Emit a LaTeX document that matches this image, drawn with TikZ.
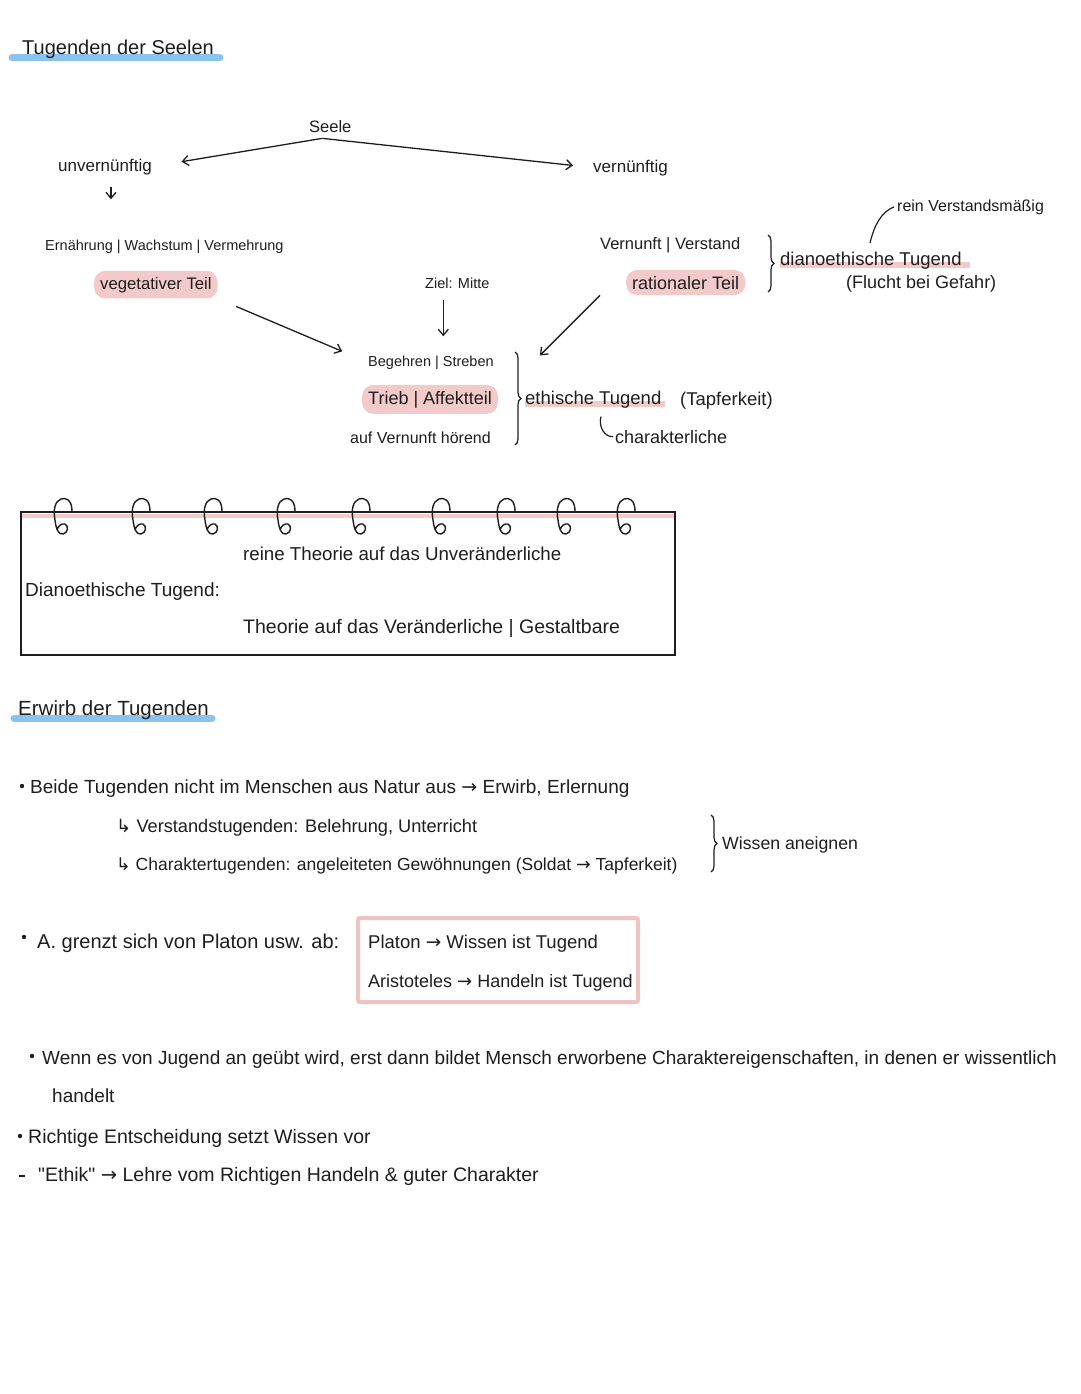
\documentclass[tikz,border=0pt]{standalone}
\usepackage{fontspec}
\setmainfont{Liberation Sans}
\newfontfamily\symf{DejaVu Sans}
\usetikzlibrary{arrows.meta,
                decorations.pathreplacing}

\definecolor{ink}{HTML}{1E1E1E}
\definecolor{pinkhl}{HTML}{F3CACA}
\definecolor{pinkbox}{HTML}{F1C2C2}
\definecolor{bluehl}{HTML}{8CC3EE}
\newcommand{\ra}{{\symf →}}
\newcommand{\hookra}{{\symf ↳}}
\newcommand{\fs}[1]{\fontsize{#1}{#1}\selectfont}

\tikzset{
  hand/.style={font=\fs{19}, inner sep=0pt, anchor=base west, text=ink},
  pill/.style={fill=pinkhl, rounded corners=11pt, inner xsep=6pt, inner ysep=6pt},
  arr/.style={-{Straight Barb[length=6pt,width=10pt]}, line width=1.3pt, draw=ink},
  hbrace/.style={decorate, decoration={brace, amplitude=6pt}, line width=1.2pt, draw=ink},
  bar/.style={line width=7pt, line cap=round},
}

\begin{document}
\begin{tikzpicture}[x=1pt, y=-1pt]
                \fill[white] (0,0) rectangle (1080,1394);
                \useasboundingbox (0,0) rectangle (1080,1394);
                % Tugenden der Seelen
                \draw[bar, bluehl] (12,58) -- (220,58);
                \node[hand, font=\fs{20}] (title) at (22,55) {Tugenden der Seelen};
                \node[hand, font=\fs{16.5}] (seele) at (309,132) {Seele};
                \node[hand, font=\fs{17}] (unv) at (58,171) {unvernünftig};
                \node[hand, font=\fs{17}] (vern) at (593,172) {vernünftig};
                \draw[arr, shorten >=30pt] ([shift={(-8,6)}]seele.south) -- (unv.east);
                \draw[arr, shorten >=20pt] ([shift={(-8,6)}]seele.south) -- (vern.west);
                \node[hand, font=\fs{14.5}] (ern) at (45,250) {Ernährung | Wachstum | Vermehrung};
                \draw[arr, shorten <=12pt, shorten >=40pt] ([xshift=6pt]unv.south) -- ([xshift=6pt]unv.south |- ern.north);
                \node[hand, pill, font=\fs{16.7}] (veg) at (94,289) {vegetativer Teil};
                \node[hand, font=\fs{14.5}] (ziel) at (425,288) {Ziel: Mitte};
                % mittlerer Teil
                \node[hand, font=\fs{14.5}] (beg) at (368,366) {Begehren | Streben};
                \node[hand, pill, font=\fs{18}] (trieb) at (362,404) {Trieb | Affektteil};
                \node[hand, font=\fs{16}] (auf) at (350,443) {auf Vernunft hörend};
                \draw[arr, shorten <=12pt, shorten >=19pt] ([xshift=-14pt]ziel.south) -- ([xshift=-14pt]ziel.south |- beg.north);
                \draw[arr, shorten <=20pt, shorten >=28pt] (veg.south east) -- (beg.west);
                \draw[hbrace] (515,352) -- (515,445);
                \draw[bar, pinkhl, line width=6pt, line cap=butt] (525,404) -- (665,404);
                \node[hand, font=\fs{18.5}] (eth) at (525,404) {ethische Tugend};
                \node[hand, font=\fs{18.5}] (tapf) at (680,405) {(Tapferkeit)};
                \node[hand, font=\fs{18}] (char) at (615,443) {charakterliche};
                \draw[line width=1.2pt, ink] ([shift={(-14,-20)}]char.west) .. controls +(-3,10) and +(-8,1) .. ([xshift=-2pt]char.west);
                % vernuenftiger Teil
                \node[hand, font=\fs{16.5}] (vv) at (600,249) {Vernunft | Verstand};
                \node[hand, pill, font=\fs{18}] (rat) at (626,289) {rationaler Teil};
                \draw[arr] ([xshift=-26pt]rat.south west) -- ([shift={(15,-35)}]eth.north west);
                \draw[hbrace] (768,235) -- (768,292);
                \draw[bar, pinkhl, line width=6pt, line cap=butt] (780,265) -- (970,265);
                \node[hand, font=\fs{18.5}] (dia) at (780,265) {dianoethische Tugend};
                \node[hand, font=\fs{18}] (flucht) at (846,288) {(Flucht bei Gefahr)};
                \node[hand, font=\fs{16}] (rein) at (897,211) {rein Verstandsmäßig};
                \coordinate (diatop) at (870,243);
                \draw[line width=1.2pt, ink] (diatop) .. controls (874,226) and (881,212) .. ([xshift=-3pt]rein.west);
                % Notizblock
                \draw[pinkhl, line width=4pt] (22,516) -- (674,516);
                \draw[line width=1.5pt, ink] (21,512) rectangle (675,655);
                \foreach \rx in {62,140,212,285,360,440,505,565,625}
                    \draw[line width=1.4pt, ink] (\rx+10,511) .. controls (\rx+10,500) and (\rx+4,497) .. (\rx-1,499)
                        .. controls (\rx-7,501) and (\rx-9,510) .. (\rx-7,520)
                        .. controls (\rx-6,528) and (\rx-4,535) .. (\rx+1,534)
                        .. controls (\rx+6,533) and (\rx+7,526) .. (\rx+3,524)
                        .. controls (\rx,523) and (\rx-4,526) .. (\rx-5,530);
                \node[hand, font=\fs{18.7}] (rein2) at (243,560) {reine Theorie auf das Unveränderliche};
                \node[hand, font=\fs{19}] (diat) at (25,596) {Dianoethische Tugend:};
                \node[hand, font=\fs{19.5}] (theo) at (243,633) {Theorie auf das Veränderliche | Gestaltbare};
                % Erwirb der Tugenden
                \draw[bar, bluehl] (14,718) -- (212,718);
                \node[hand, font=\fs{20.5}] (erw) at (18,715) {Erwirb der Tugenden};
                \fill[ink] (22,786) circle (2.2);
                \node[hand] (beide) at (30,793) {Beide Tugenden nicht im Menschen aus Natur aus \ra\ Erwirb, Erlernung};
                \node[hand, font=\fs{18.2}] (verst) at (116,832) {\hookra\ Verstandstugenden: Belehrung, Unterricht};
                \node[hand, font=\fs{17.5}] (chart) at (116,870) {\hookra\ Charaktertugenden: angeleiteten Gewöhnungen (Soldat \ra\ Tapferkeit)};
                \draw[hbrace] (711,815) -- (711,872);
                \node[hand, font=\fs{17.7}] (wissen) at (722,849) {Wissen aneignen};
                \fill[ink] (24,937) circle (2.2);
                \node[hand, font=\fs{20}] (grenzt) at (37,948) {A. grenzt sich von Platon usw. ab:};
                \draw[pinkbox, line width=4pt, rounded corners=2pt] (358,918) rectangle (638,1002);
                \node[hand, font=\fs{18.5}] (platon) at (368,948) {Platon \ra\ Wissen ist Tugend};
                \node[hand, font=\fs{18}] (arist) at (368,987) {Aristoteles \ra\ Handeln ist Tugend};
                \fill[ink] (32,1056) circle (2.2);
                \node[hand] (wenn) at (42,1064) {Wenn es von Jugend an geübt wird, erst dann bildet Mensch erworbene Charaktereigenschaften, in denen er wissentlich};
                \node[hand] (handelt) at (52,1102) {handelt};
                \fill[ink] (20,1136) circle (2.2);
                \node[hand, font=\fs{19.5}] (richtig) at (28,1143) {Richtige Entscheidung setzt Wissen vor};
                \draw[line width=1.6pt, ink] (19,1176) -- (25,1176);
                \node[hand, font=\fs{19.5}] (ethik) at (38,1181) {\textquotedbl Ethik\textquotedbl\ \ra\ Lehre vom Richtigen Handeln \& guter Charakter};
            \end{tikzpicture}
\end{document}
